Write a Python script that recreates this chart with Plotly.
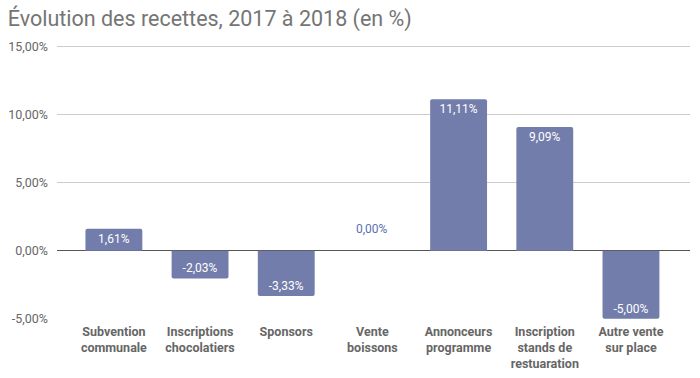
import plotly.graph_objects as go

categories = ["Subvention<br>communale", "Inscriptions<br>chocolatiers", "Sponsors",
              "Vente<br>boissons", "Annonceurs<br>programme",
              "Inscription<br>stands de<br>restuaration", "Autre vente<br>sur place"]
values = [1.61, -2.03, -3.33, 0.00, 11.11, 9.09, -5.00]
ytick_vals = [-5, 0, 5, 10, 15]
ytick_text = ["-5,00%", "0,00%", "5,00%", "10,00%", "15,00%"]

bar_color = "#737dab"
xs = list(range(len(categories)))
bar_text = ["" if v == 0 else "%.2f%%" % v for v in values]
bar_text = [t.replace(".", ",") for t in bar_text]

fig = go.Figure(go.Bar(
    x=xs, y=values,
    marker=dict(color=bar_color, cornerradius=2, line=dict(width=0)),
    width=0.66,
    text=bar_text,
    textposition="inside",
    insidetextanchor="end",
    textfont=dict(color="white", size=12, family="Roboto"),
    constraintext="none",
    hoverinfo="skip",
))

# label for zero-height bars, placed above the baseline
for x, v in zip(xs, values):
    if v == 0:
        fig.add_annotation(x=x, y=v, text=("%.2f%%" % v).replace(".", ","),
                           showarrow=False, yanchor="bottom", yshift=13,
                           font=dict(color="#5a6fb0", size=12, family="Roboto"))

fig.update_layout(
    width=700, height=378,
    margin=dict(l=57, r=10, t=45, b=59, autoexpand=False),
    paper_bgcolor="white", plot_bgcolor="white",
    separators=", ",
    showlegend=False,
    title=dict(text="Évolution des recettes, 2017 à 2018 (en %)",
               x=0.011, xanchor="left", y=0.95, yanchor="middle",
               font=dict(family="Roboto", size=21.5, color="#757575"),
               automargin=False),
    font=dict(family="Roboto", color="#666666"),
)
fig.update_xaxes(
    range=[-0.66, 6.685], automargin=False,
    tickmode="array", tickvals=xs, ticktext=[f"<b>{c}</b>" for c in categories],
    tickfont=dict(size=12.5, color="#666666", family="Roboto"),
    showgrid=False, zeroline=False, showline=False, ticks="",
    ticklabelstandoff=3,
)
fig.update_yaxes(
    range=[-5.01, 15.1], automargin=False,
    tickmode="array", tickvals=ytick_vals, ticktext=ytick_text,
    tickfont=dict(size=12.5, color="#666666", family="Roboto"),
    showgrid=True, gridcolor="#cccccc", gridwidth=1,
    zeroline=True, zerolinecolor="#555555", zerolinewidth=1,
    ticks="", ticklabelstandoff=8,
)
fig.write_html("out.html", config={"displayModeBar": False},
               post_script="document.body.style.margin='0';document.body.style.overflow='hidden';")
